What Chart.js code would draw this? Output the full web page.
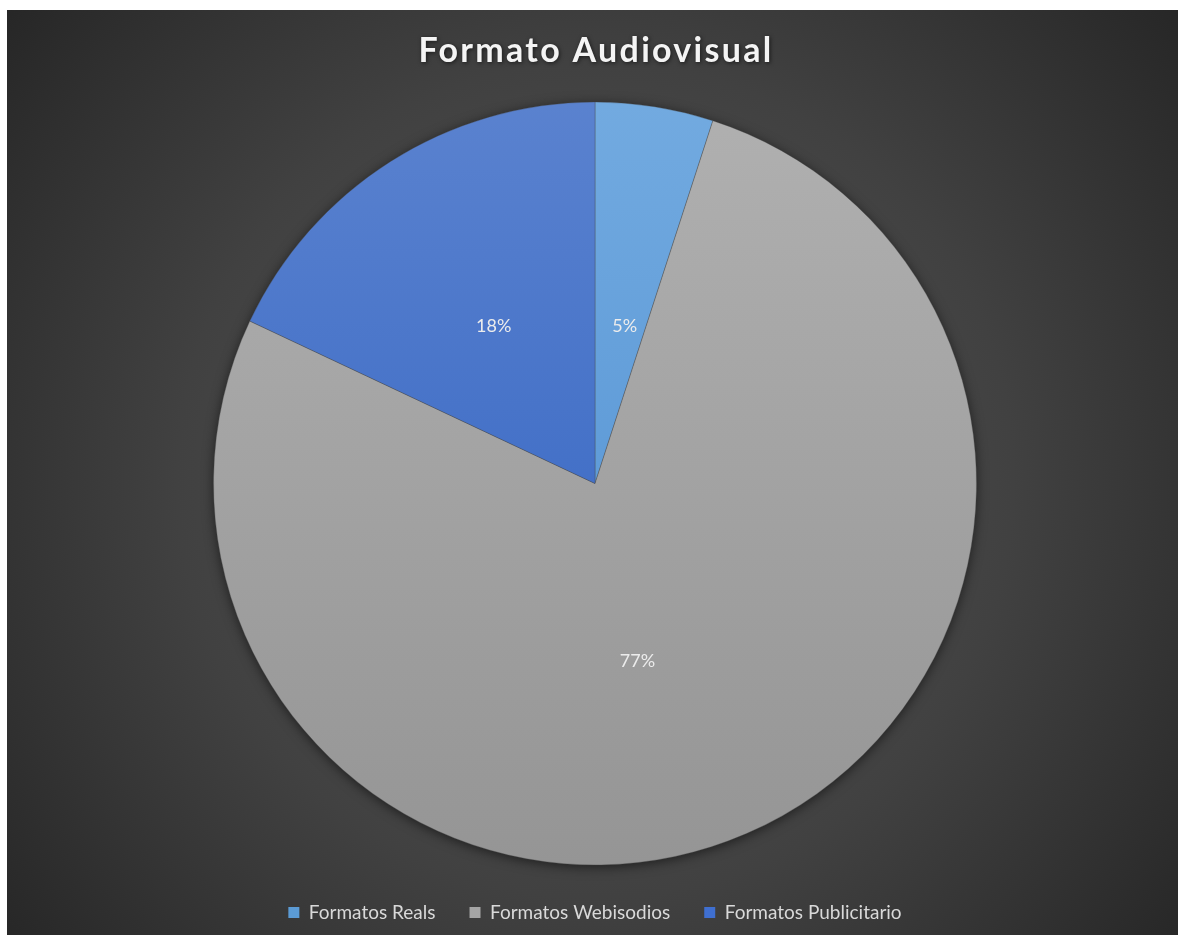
<!DOCTYPE html>
<html>
<head>
<meta charset="utf-8">
<script src="https://cdn.jsdelivr.net/npm/chart.js@4/dist/chart.umd.min.js"></script>
<style>
  html, body { margin: 0; padding: 0; background: #ffffff; }
  #wrap { position: absolute; left: 7px; top: 10px; width: 1171px; height: 925px; }
</style>
</head>
<body>
<div id="wrap"><canvas id="c"></canvas></div>
<script>
// Chart content
const titleText = 'Formato Audiovisual';
const categories = ['Formatos Reals', 'Formatos Webisodios', 'Formatos Publicitario'];
const shares = [5, 77, 18];

// Slice colours: top / bottom of the vertical shading, and the flat legend swatch
const topColors = ['#72aae0', '#b0b0b0', '#5a82cf'];
const bottomColors = ['#4c8dd0', '#959595', '#2d5fc0'];
const swatchColors = ['#5b9bd5', '#a5a5a5', '#3f6fd0'];

// Where each percentage sits inside its slice (radius fraction, angle nudge in degrees)
const labelRadius = [0.42, 0.48, 0.49];
const labelNudge = [1.7, 10, -0.4];

const backdrop = {
  id: 'backdrop',
  beforeDraw(chart) {
    const { ctx, width, height } = chart;
    const cx = 588, cy = 470;
    const g = ctx.createRadialGradient(cx, cy, 0, cx, cy, 760);
    g.addColorStop(0, '#565656');
    g.addColorStop(0.55, '#414141');
    g.addColorStop(1, '#262626');
    ctx.save();
    ctx.fillStyle = g;
    ctx.fillRect(0, 0, width, height);
    ctx.restore();
  }
};

// Soft shadow under the whole pie
const pieShadow = {
  id: 'pieShadow',
  beforeDatasetsDraw(chart) {
    const arc = chart.getDatasetMeta(0).data[0];
    if (!arc) return;
    const { ctx } = chart;
    ctx.save();
    ctx.shadowColor = 'rgba(0,0,0,0.55)';
    ctx.shadowBlur = 12;
    ctx.shadowOffsetY = 2;
    ctx.fillStyle = '#3a3a3a';
    ctx.beginPath();
    ctx.arc(arc.x, arc.y, arc.outerRadius, 0, Math.PI * 2);
    ctx.fill();
    ctx.restore();
  }
};

const sliceLabels = {
  id: 'sliceLabels',
  afterDatasetsDraw(chart) {
    const { ctx } = chart;
    const data = chart.data.datasets[0].data;
    const total = data.reduce((a, b) => a + b, 0);
    ctx.save();
    ctx.font = '18px Lato';
    ctx.fillStyle = '#ececec';
    ctx.textAlign = 'center';
    ctx.textBaseline = 'middle';
    chart.getDatasetMeta(0).data.forEach((arc, i) => {
      const mid = (arc.startAngle + arc.endAngle) / 2 + labelNudge[i] * Math.PI / 180;
      const r = arc.outerRadius * labelRadius[i];
      const txt = Math.round(data[i] / total * 100) + '%';
      ctx.fillText(txt, arc.x + Math.cos(mid) * r, arc.y + Math.sin(mid) * r);
    });
    ctx.restore();
  }
};

const heading = {
  id: 'heading',
  afterDraw(chart) {
    const { ctx, chartArea } = chart;
    ctx.save();
    ctx.font = 'bold 34px Lato';
    ctx.letterSpacing = '2.3px';
    ctx.fillStyle = '#f4f4f4';
    ctx.textAlign = 'center';
    ctx.textBaseline = 'middle';
    ctx.shadowColor = 'rgba(0,0,0,0.6)';
    ctx.shadowBlur = 4;
    ctx.shadowOffsetX = 1;
    ctx.shadowOffsetY = 1;
    ctx.fillText(titleText, (chartArea.left + chartArea.right) / 2 + 1, 41);
    ctx.restore();
  }
};

function shade(i) {
  return (context) => {
    const chart = context.chart;
    const area = chart.chartArea;
    if (!area) return swatchColors[i];
    const cy = (area.top + area.bottom) / 2;
    const r = Math.min(area.width, area.height) / 2;
    const g = chart.ctx.createLinearGradient(0, cy - r, 0, cy + r);
    g.addColorStop(0, topColors[i]);
    g.addColorStop(1, bottomColors[i]);
    return g;
  };
}

new Chart(document.getElementById('c'), {
  type: 'pie',
  data: {
    labels: categories,
    datasets: [{
      data: shares,
      backgroundColor: (ctx) => shade(ctx.dataIndex)(ctx),
      borderColor: 'rgba(70,70,70,0.35)',
      borderWidth: 1
    }]
  },
  plugins: [backdrop, pieShadow, sliceLabels, heading],
  options: {
    responsive: true,
    maintainAspectRatio: false,
    animation: false,
    layout: { padding: { left: 206, right: 201, top: 88, bottom: 3 } },
    plugins: {
      title: { display: false },
      tooltip: { enabled: false },
      legend: {
        position: 'bottom',
        maxHeight: 66,
        labels: {
          color: '#d9d9d9',
          font: { family: 'Lato', size: 19 },
          boxWidth: 11,
          boxHeight: 11,
          padding: 34,
          generateLabels(chart) {
            return chart.data.labels.map((text, i) => ({
              text,
              fillStyle: swatchColors[i],
              strokeStyle: swatchColors[i],
              lineWidth: 0,
              fontColor: '#d9d9d9',
              index: i,
              hidden: false
            }));
          }
        }
      }
    }
  }
});
</script>
</body>
</html>
